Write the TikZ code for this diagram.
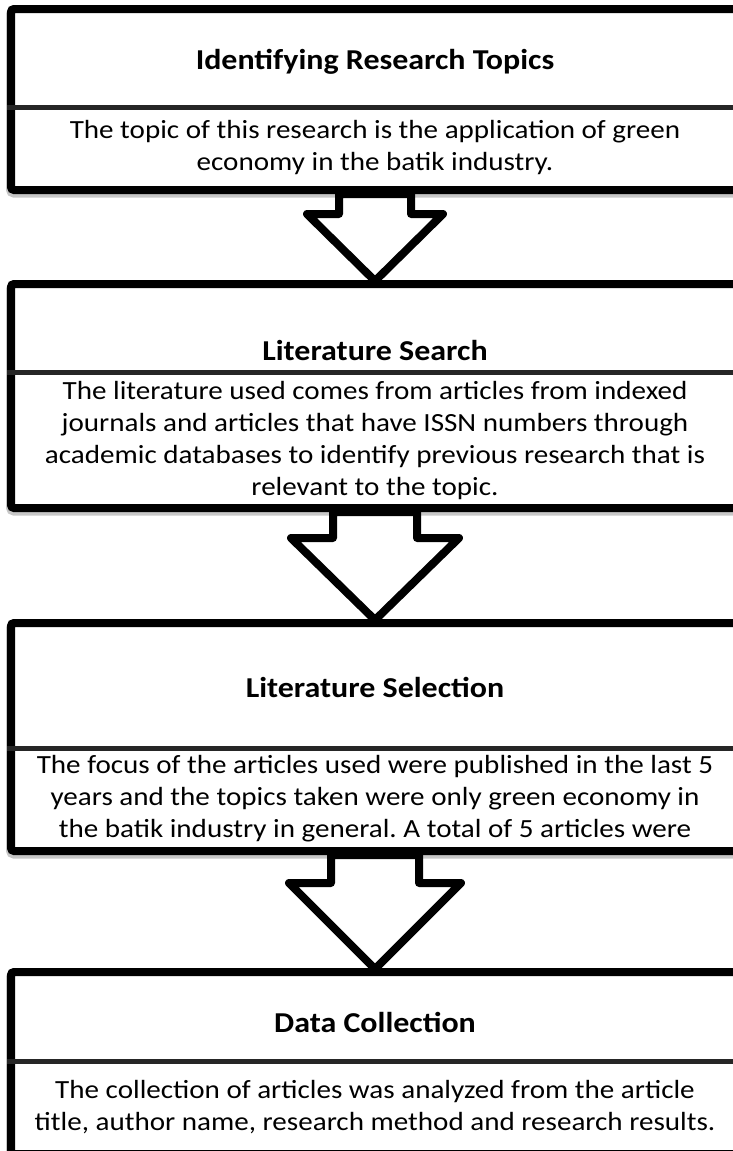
\documentclass[tikz,border=0pt]{standalone}
\usepackage{fontspec}
\setmainfont[FakeStretch=1.11]{Carlito}
\usetikzlibrary{calc}
\frenchspacing
\begin{document}
\begin{tikzpicture}[x=1pt,y=-1pt,
  box/.style={draw=black,line width=8pt,fill=white,rounded corners=3pt,inner sep=0pt,minimum width=728pt,
    preaction={draw=black!22,line width=10pt,transform canvas={yshift=-2.5pt}}},
  divider/.style={draw=black!85,line width=5pt},
  title/.style={font=\fontsize{28.8}{32}\selectfont\bfseries,align=center,inner sep=0pt},
  body/.style={font=\fontsize{26.2}{32}\selectfont,align=center,inner sep=0pt},
  bigarrow/.style={draw=black,fill=white,line width=8pt,line join=round}]
\useasboundingbox (0,0) rectangle (733,1151);
\clip (0,0) rectangle (733,1151);
% boxes
\node[box,minimum height=181pt] (b1) at (375,99.5) {};
\node[box,minimum height=224pt] (b2) at (375,396) {};
\node[box,minimum height=228pt] (b3) at (375,737) {};
\node[box,minimum height=182pt] (b4) at (375,1063) {};
% dividers
\draw[divider] (b1.west |- 0,107) -- (b1.east |- 0,107);
\draw[divider] (b2.west |- 0,372) -- (b2.east |- 0,372);
\draw[divider] (b3.west |- 0,748) -- (b3.east |- 0,748);
\draw[divider] (b4.west |- 0,1061) -- (b4.east |- 0,1061);
% texts
\node[title] (t1) at (375,62) {Identifying Research Topics};
\node[body] (d1) at (375,148) {The topic of this research is the application of green\\economy in the batik industry.};
\node[title] (t2) at (375,350) {Literature Search};
\node[body] (d2) at (375,441) {The literature used comes from articles from indexed\\journals and articles that have ISSN numbers through\\academic databases to identify previous research that is\\relevant to the topic.};
\node[title] (t3) at (375,687) {Literature Selection};
\node[body] (d3) at (375,799) {The focus of the articles used were published in the last 5\\years and the topics taken were only green economy in\\the batik industry in general. A total of 5 articles were};
\node[title] (t4) at (375,1022) {Data Collection};
\node[body] (d4) at (375,1107) {The collection of articles was analyzed from the article\\title, author name, research method and research results.};
% arrows
\draw[bigarrow] ($(b1.south)+(-36,0)$) |- ($(b2.north)+(-68,-66)$) -- ($(b2.north)+(0,1)$) -- ($(b2.north)+(68,-66)$) -| ($(b1.south)+(36,0)$) -- cycle;
\draw[bigarrow] ($(b2.south)+(-42,0)$) |- ($(b3.north)+(-84,-81)$) -- ($(b3.north)+(0,1)$) -- ($(b3.north)+(84,-81)$) -| ($(b2.south)+(42,0)$) -- cycle;
\draw[bigarrow] ($(b3.south)+(-44,0)$) |- ($(b4.north)+(-86,-85)$) -- ($(b4.north)+(0,1)$) -- ($(b4.north)+(86,-85)$) -| ($(b3.south)+(44,0)$) -- cycle;
\end{tikzpicture}
\end{document}
